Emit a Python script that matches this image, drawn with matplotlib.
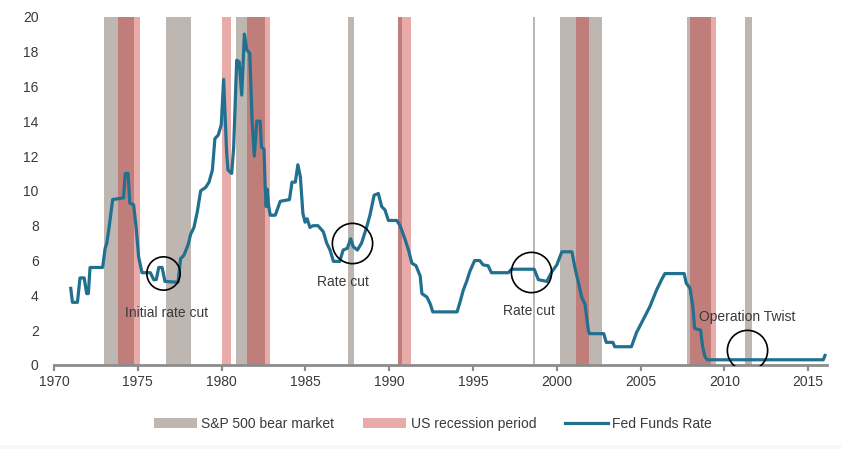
#!/usr/bin/env python3
"""Fed Funds Rate with S&P 500 bear markets and US recessions shaded."""

import matplotlib as mpl

mpl.use("Agg")

import matplotlib.pyplot as plt
from matplotlib.patches import Patch, Rectangle
from matplotlib.lines import Line2D

plt.rcParams["font.family"] = ["Liberation Sans", "DejaVu Sans"]

# shaded periods (decimal years)
bear_start = [1973.0, 1976.68, 1980.84, 1987.56, 1990.53, 1998.55, 2000.19, 2007.75, 2011.25]
bear_end = [1974.76, 1978.16, 1982.59, 1987.9, 1990.74, 1998.72, 2002.71, 2009.18, 2011.65]
recession_start = [1973.84, 1980.0, 1981.5, 1990.53, 2001.15, 2007.95]
recession_end = [1975.15, 1980.56, 1982.9, 1991.3, 2001.92, 2009.48]

# effective fed funds rate
fed_years = [
    1971.0, 1971.1, 1971.4, 1971.55, 1971.8, 1971.95, 1972.05, 1972.15, 1972.9,
    1973.05, 1973.15, 1973.3, 1973.5, 1974.15, 1974.25, 1974.42, 1974.52, 1974.75,
    1974.9, 1975.05, 1975.25, 1975.75, 1975.95, 1976.1, 1976.25, 1976.45, 1976.62,
    1977.4, 1977.55, 1977.75, 1978.0, 1978.15, 1978.35, 1978.55, 1978.75, 1979.05,
    1979.25, 1979.45, 1979.6, 1979.8, 1979.98, 1980.12, 1980.3, 1980.38, 1980.6,
    1980.72, 1980.9, 1981.05, 1981.2, 1981.36, 1981.5, 1981.68, 1981.82, 1981.95,
    1982.1, 1982.3, 1982.38, 1982.53, 1982.6, 1982.66, 1982.72, 1982.8, 1982.9,
    1983.2, 1983.5, 1984.05, 1984.2, 1984.4, 1984.55, 1984.7, 1984.85, 1984.98,
    1985.1, 1985.27, 1985.45, 1985.75, 1986.07, 1986.27, 1986.47, 1986.67, 1987.05,
    1987.25, 1987.5, 1987.7, 1987.85, 1988.1, 1988.35, 1988.65, 1988.85, 1989.1,
    1989.35, 1989.55, 1989.75, 1989.95, 1990.45, 1990.65, 1990.95, 1991.15, 1991.35,
    1991.6, 1991.85, 1991.95, 1992.25, 1992.45, 1992.6, 1994.05, 1994.22, 1994.42,
    1994.62, 1994.82, 1995.1, 1995.4, 1995.6, 1995.9, 1996.1, 1997.1, 1997.3,
    1998.65, 1998.9, 1999.4, 1999.7, 2000.0, 2000.3, 2000.9, 2001.1, 2001.3,
    2001.48, 2001.68, 2001.88, 2001.95, 2002.8, 2002.95, 2003.35, 2003.45, 2004.45,
    2004.75, 2005.15, 2005.55, 2005.95, 2006.25, 2006.45, 2007.6, 2007.72, 2007.95,
    2008.12, 2008.22, 2008.58, 2008.7, 2008.83, 2008.97, 2015.9, 2016.0,
]
fed_rate = [
    4.4, 3.6, 3.6, 5.0, 5.0, 4.1, 4.1, 5.6, 5.6,
    6.7, 7.0, 8.0, 9.5, 9.6, 11.0, 11.0, 9.3, 9.2,
    7.9, 6.2, 5.3, 5.3, 4.9, 4.9, 5.6, 5.6, 4.8,
    4.75, 6.1, 6.3, 6.9, 7.5, 7.9, 8.8, 10.0, 10.2,
    10.5, 11.2, 13.0, 13.2, 13.8, 16.4, 12.2, 11.2, 11.0,
    12.5, 17.5, 17.4, 15.5, 19.0, 18.1, 17.9, 14.0, 12.0,
    14.0, 14.0, 12.5, 12.4, 10.2, 9.1, 10.1, 9.2, 8.6,
    8.6, 9.4, 9.5, 10.5, 10.5, 11.5, 10.8, 8.7, 8.2,
    8.4, 7.9, 8.0, 8.0, 7.65, 7.0, 6.6, 5.95, 5.95,
    6.6, 6.7, 7.25, 6.8, 6.6, 7.0, 7.9, 8.6, 9.75,
    9.85, 9.1, 8.9, 8.3, 8.3, 8.0, 7.2, 6.6, 5.85,
    5.7, 5.1, 4.1, 3.9, 3.5, 3.05, 3.05, 3.6, 4.3,
    4.8, 5.4, 6.0, 6.0, 5.75, 5.7, 5.3, 5.3, 5.5,
    5.5, 4.9, 4.8, 5.35, 5.75, 6.5, 6.5, 5.5, 4.7,
    3.9, 3.5, 2.0, 1.8, 1.8, 1.3, 1.3, 1.05, 1.05,
    1.85, 2.6, 3.35, 4.3, 4.9, 5.25, 5.25, 4.7, 4.4,
    3.3, 2.1, 2.0, 1.05, 0.5, 0.3, 0.3, 0.55,
]

# annotations: circle centre, circle size (pt), label position
note_text = ["Initial rate cut", "Rate cut", "Rate cut", "Operation Twist"]
note_x = [1976.52, 1987.76, 1998.44, 2011.37]
note_y = [5.3, 7.0, 5.36, 0.86]
note_size = [24, 29, 29, 29]
label_x = [1976.72, 1987.26, 1998.34, 2011.33]
label_y = [2.97, 4.75, 3.12, 2.74]

LINE_COLOR = "#22708f"
BEAR_COLOR = "#bdb6b1"
RECESSION_COLOR = (0.78, 0.15, 0.15, 0.39)
TEXT_COLOR = "#3a3a3a"


def main() -> None:
    fig = plt.figure(figsize=(8.41, 4.49), dpi=100)
    fig.patches.append(
        Rectangle((0, 0), 1, 4 / 449, transform=fig.transFigure,
                  facecolor="#f1f9fb", edgecolor="none", zorder=0)
    )
    ax = fig.add_axes([54 / 841, 84 / 449, 773 / 841, 348.3 / 449])

    for start, end in zip(bear_start, bear_end):
        ax.axvspan(start, end, color=BEAR_COLOR, lw=0, zorder=1)
    for start, end in zip(recession_start, recession_end):
        ax.axvspan(start, end, color=RECESSION_COLOR, lw=0, zorder=2)

    ax.plot(fed_years, fed_rate, color=LINE_COLOR, lw=2.3, zorder=4,
            solid_joinstyle="round")

    for i, text in enumerate(note_text):
        ax.plot(note_x[i], note_y[i], marker="o", ms=note_size[i], mfc="none",
                mec="black", mew=1.2, ls="none", zorder=5)
        ax.text(label_x[i], label_y[i], text, ha="center", va="center",
                fontsize=10, color=TEXT_COLOR, zorder=6)

    ax.set_xlim(1970, 2016.12)
    ax.set_ylim(0, 20)
    ax.set_xticks(range(1970, 2016, 5))
    ax.set_yticks(range(0, 21, 2))

    for side in ("top", "right", "left"):
        ax.spines[side].set_visible(False)
    ax.spines["bottom"].set_color("#8c8c8c")
    ax.spines["bottom"].set_linewidth(2.0)
    ax.spines["bottom"].set_zorder(3)
    ax.tick_params(axis="x", length=4.5, width=1.6, color="#8c8c8c",
                   labelsize=10, labelcolor=TEXT_COLOR, pad=3)
    ax.tick_params(axis="y", length=0, labelsize=10, labelcolor=TEXT_COLOR, pad=11)

    handles = [
        Patch(facecolor=BEAR_COLOR, edgecolor="none"),
        Patch(facecolor=RECESSION_COLOR, edgecolor="none"),
        Line2D([], [], color=LINE_COLOR, lw=2.3),
    ]
    labels = ["S&P 500 bear market", "US recession period", "Fed Funds Rate"]
    fig.legend(handles, labels, loc="center", bbox_to_anchor=(0.515, 1 - 424 / 449),
               ncol=3, frameon=False, fontsize=10, handlelength=3.1,
               handleheight=0.8, handletextpad=0.3, columnspacing=2.1,
               labelcolor=TEXT_COLOR)

    fig.savefig("out.png", dpi=100)
    plt.close(fig)


if __name__ == "__main__":
    main()
